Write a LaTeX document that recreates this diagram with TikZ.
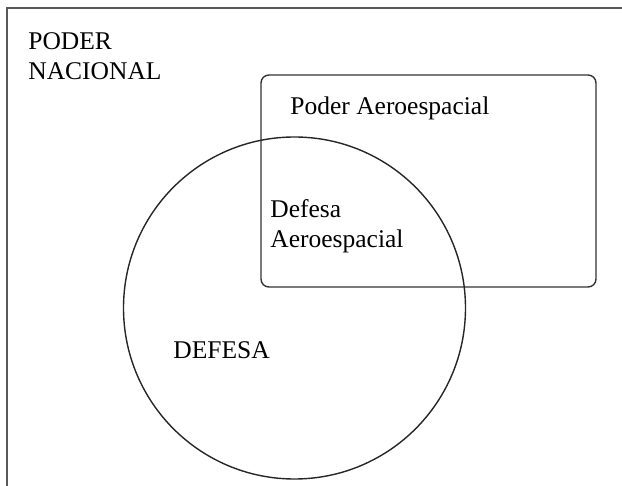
\documentclass[tikz,border=0pt]{standalone}
\usepackage{fontspec}
\setmainfont{Liberation Serif}
\begin{document}
\begin{tikzpicture}[x=0.5pt, y=-0.5pt, font=\fontsize{12.75}{15}\selectfont,
    frameln/.style={draw=black!65, line width=1pt},
    setln/.style={draw=black!80, line width=0.7pt},
    lbl/.style={anchor=base west, inner sep=0pt, align=left}]
  \useasboundingbox (0,0) rectangle (622,486);
  % outer frame, only its left and top edges are in view
  \coordinate (fbot) at (7,492);
  \coordinate (fcorner) at (7,8);
  \coordinate (fright) at (628,8);
  \draw[frameln] (fbot) -- (fcorner) -- (fright);
  % the two sets
  \draw[setln, rounded corners=4pt] (261,75) rectangle (596,287);
  \draw[setln, draw=black!85] (294.5,308) circle [radius=85.5pt];
  % labels (base = last line)
  \node[lbl] (nacional) at (28,80) {PODER\\NACIONAL};
  \node[lbl] (aero) at (290,115) {Poder Aeroespacial};
  \node[lbl] (defaero) at (270,248) {Defesa\\Aeroespacial};
  \node[lbl] (defesa) at (173,359) {DEFESA};
\end{tikzpicture}
\end{document}
